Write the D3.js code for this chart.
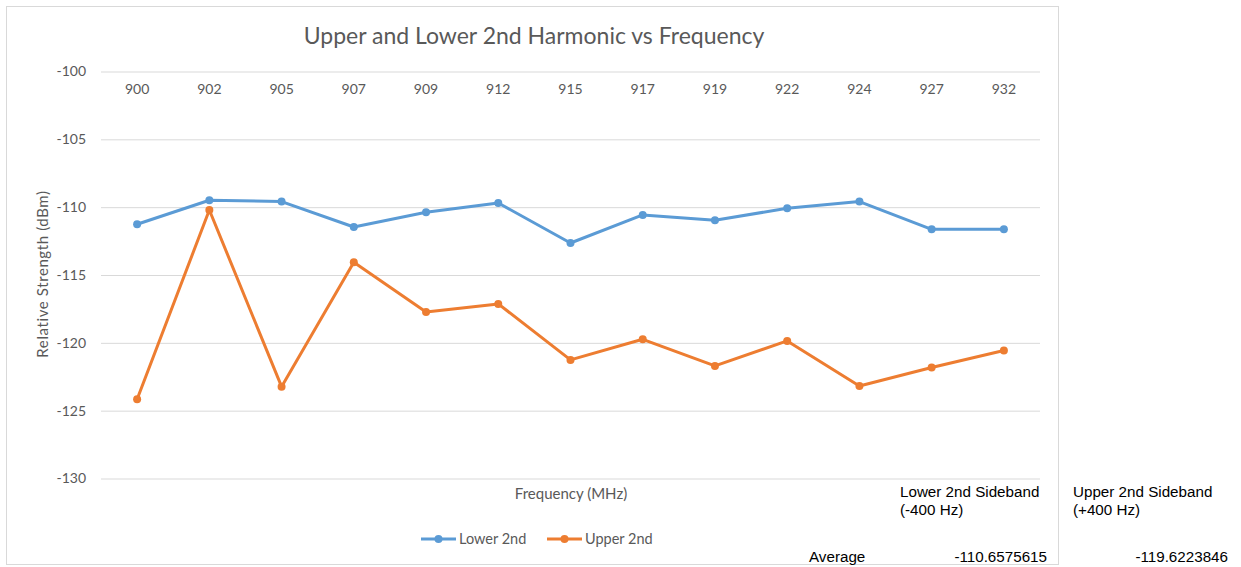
<!DOCTYPE html>
<html>
<head>
<meta charset="utf-8">
<script src="https://cdn.jsdelivr.net/npm/d3@7"></script>
<style>
  html, body { margin: 0; padding: 0; background: #fff; }
  svg { display: block; }
</style>
</head>
<body>
<script>
const categories = ["900","902","905","907","909","912","915","917","919","922","924","927","932"];
const lower2nd = [-111.26,-109.49,-109.59,-111.46,-110.38,-109.69,-112.64,-110.57,-110.97,-110.08,-109.59,-111.63,-111.63];
const upper2nd = [-124.16,-110.21,-123.23,-114.06,-117.72,-117.13,-121.26,-119.74,-121.70,-119.86,-123.18,-121.82,-120.57];
const yTicks = [-100,-105,-110,-115,-120,-125,-130];
const seriesNames = ["Lower 2nd","Upper 2nd"];
const seriesColors = ["#5B9BD5","#ED7D31"];
const chartTitle = "Upper and Lower 2nd Harmonic vs Frequency";
const xTitle = "Frequency (MHz)";
const yTitle = "Relative Strength (dBm)";
const sideHeaders = [["Lower 2nd Sideband","(-400 Hz)"],["Upper 2nd Sideband","(+400 Hz)"]];
const avgLabel = "Average";
const avgValues = ["-110.6575615","-119.6223846"];

const W = 1241, H = 567;
const svg = d3.select("body").append("svg").attr("width", W).attr("height", H);
const font = "Lato, 'Open Sans', sans-serif";
const gray = "#595959";

// chart frame
svg.append("rect").attr("x", 6.5).attr("y", 6.5).attr("width", 1052).attr("height", 558)
  .attr("fill", "#fff").attr("stroke", "#d9d9d9").attr("stroke-width", 1);

const x = d3.scaleBand().domain(categories).range([101, 1040]);
const y = d3.scaleLinear().domain([-130, -100]).range([478.5, 71.5]);

// gridlines + y tick labels
const gAxis = svg.append("g").attr("transform", "translate(101,0)")
  .call(d3.axisLeft(y).tickValues(yTicks).tickSize(-939).tickPadding(15).tickFormat(d => String(d)));
gAxis.select(".domain").remove();
gAxis.selectAll(".tick line").attr("stroke", "#d9d9d9").attr("stroke-width", 1);
gAxis.selectAll(".tick text").attr("fill", gray).attr("font-family", font).attr("font-size", 14);

// category labels at top
const xAxis = svg.append("g").attr("transform", "translate(0,71.5)")
  .call(d3.axisBottom(x).tickSize(0).tickPadding(13));
xAxis.select(".domain").remove();
xAxis.selectAll(".tick text").attr("fill", gray).attr("font-family", font).attr("font-size", 14);

// title
svg.append("text").attr("x", 534).attr("y", 44).attr("text-anchor", "middle")
  .attr("font-family", font).attr("font-size", 23).attr("fill", gray).text(chartTitle);

// axis titles
svg.append("text").attr("x", 571).attr("y", 499).attr("text-anchor", "middle")
  .attr("font-family", font).attr("font-size", 15).attr("fill", gray).text(xTitle);
svg.append("text").attr("transform", "translate(48,274) rotate(-90)").attr("text-anchor", "middle")
  .attr("font-family", font).attr("font-size", 15).attr("letter-spacing", 0.6).attr("fill", gray).text(yTitle);

// series
const series = [lower2nd, upper2nd];
const cx = c => x(c) + x.bandwidth() / 2;
series.forEach((vals, i) => {
  const line = d3.line().x((d, j) => cx(categories[j])).y(d => y(d));
  svg.append("path").datum(vals).attr("d", line).attr("fill", "none")
    .attr("stroke", seriesColors[i]).attr("stroke-width", 3).attr("stroke-linejoin", "round");
  svg.append("g").selectAll("circle").data(vals).join("circle")
    .attr("cx", (d, j) => cx(categories[j])).attr("cy", d => y(d)).attr("r", 4)
    .attr("fill", seriesColors[i]);
});

// legend
const legX = [421, 547];
seriesNames.forEach((name, i) => {
  const g = svg.append("g").attr("transform", `translate(${legX[i]},539)`);
  g.append("line").attr("x1", 0).attr("x2", 35).attr("y1", 0).attr("y2", 0)
    .attr("stroke", seriesColors[i]).attr("stroke-width", 3);
  g.append("circle").attr("cx", 17.5).attr("cy", 0).attr("r", 4).attr("fill", seriesColors[i]);
  g.append("text").attr("x", 38).attr("y", 5).attr("font-family", font).attr("font-size", 14.5)
    .attr("fill", gray).text(name);
});

// side table text
const tFont = "'Liberation Sans', Arial, sans-serif";
const hdrX = [900, 1073];
sideHeaders.forEach((lines, i) => {
  lines.forEach((t, k) => {
    svg.append("text").attr("x", hdrX[i]).attr("y", 497 + k * 18).attr("font-family", tFont)
      .attr("font-size", 15.2).attr("fill", "#000").text(t);
  });
});
svg.append("text").attr("x", 809).attr("y", 562).attr("font-family", tFont)
  .attr("font-size", 15.2).attr("fill", "#000").text(avgLabel);
const avgRight = [1047, 1228];
avgValues.forEach((v, i) => {
  svg.append("text").attr("x", avgRight[i]).attr("y", 562).attr("text-anchor", "end")
    .attr("font-family", tFont).attr("font-size", 15.2).attr("fill", "#000").text(v);
});
</script>
</body>
</html>
